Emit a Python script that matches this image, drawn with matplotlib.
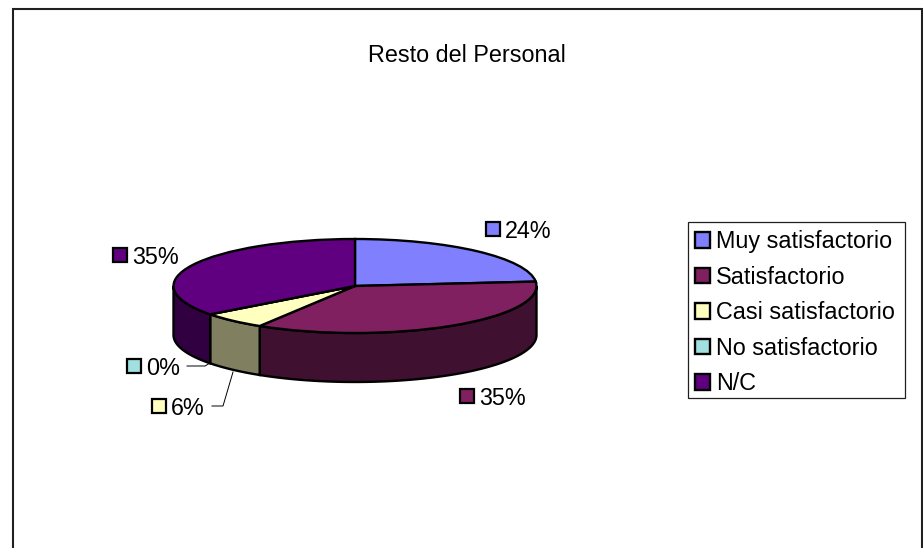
import numpy as np
import matplotlib
matplotlib.use('Agg')
import matplotlib.pyplot as plt
from matplotlib.patches import Polygon, Rectangle

plt.rcParams['font.family'] = ['Liberation Sans', 'DejaVu Sans']

# Data
title = 'Resto del Personal'
categories = ['Muy satisfactorio', 'Satisfactorio', 'Casi satisfactorio', 'No satisfactorio', 'N/C']
percents = [23.5, 35.3, 5.9, 0.0, 35.3]
colors = ['#8080FF', '#802060', '#FFFFC0', '#A0E0E0', '#600080']
side_colors = ['#404080', '#401030', '#808060', '#507070', '#300040']

# Layout in pixels of the 923x548 picture
W, H = 923, 548
cx, cy, rx, ry, depth = 355, 286, 181.5, 47, 49
FS = 23.4 * 72 / 100  # font size in points
LW = 1.7

fig = plt.figure(figsize=(W / 100, H / 100), dpi=100, facecolor='white')

# Pie axes: unit circle squashed into an ellipse
ax = fig.add_axes([0, 0, 1, 1])
wedges, _ = ax.pie(percents, colors=colors, startangle=90, counterclock=False,
                   wedgeprops=dict(edgecolor='black', linewidth=LW, zorder=3))
ax.set_aspect('auto')
ax.set_xlim(-cx / rx, (W - cx) / rx)
ax.set_ylim((cy - H) / ry, cy / ry)
ax.axis('off')

# Rim of the pie: only the front half can be seen
d = depth / ry
start = 0.0
total = sum(percents)
for p, col in zip(percents, side_colors):
    end = start + p / total * 360
    a, b = max(start, 90), min(end, 270)
    if b > a:
        t = np.radians(np.linspace(a, b, 80))
        xs, ys = np.sin(t), np.cos(t)
        pts = np.r_[np.c_[xs, ys], np.c_[xs, ys - d][::-1]]
        ax.add_patch(Polygon(pts, closed=True, facecolor=col, edgecolor='black',
                             linewidth=LW, zorder=2))
    start = end

# Overlay in pixel coordinates for frame, title and labels
ov = fig.add_axes([0, 0, 1, 1])
ov.set_xlim(0, W)
ov.set_ylim(H, 0)
ov.axis('off')

ov.plot([13, 13, 922, 922], [H, 9, 9, H], color='#202020', lw=1.5, solid_joinstyle='miter')
ov.text(467, 55, title, fontsize=FS, ha='center', va='center')

# Data labels: marker square + percent text
label_pos = [(485, 229), (459, 396), (151, 406), (126, 366), (112, 255)]
for p, col, (lx, ly) in zip(percents, colors, label_pos):
    ov.plot([lx + 7.5], [ly], 's', ms=9.6, mfc=col, mec='black', mew=1.6)
    ov.text(lx + 20, ly, '%d%%' % round(p), fontsize=FS, ha='left', va='center_baseline')

# Leader lines
ov.plot([187, 205, 210], [366, 366, 363], color='black', lw=0.7)
ov.plot([212, 223, 233], [406, 406, 372], color='black', lw=0.7)

# Legend, its box is drawn by hand to get the exact height
leg = ax.legend(wedges, categories, loc='upper left', bbox_to_anchor=(687, 222),
                bbox_transform=ov.transData, borderaxespad=0, fontsize=FS,
                frameon=False, handlelength=0.64, handleheight=0.64, handletextpad=0.24,
                labelspacing=0.535, borderpad=0.35)
ov.add_patch(Rectangle((687.5, 222), 217, 176, fill=False, edgecolor='#202020', lw=0.9))

fig.savefig('out.png', dpi=100)
